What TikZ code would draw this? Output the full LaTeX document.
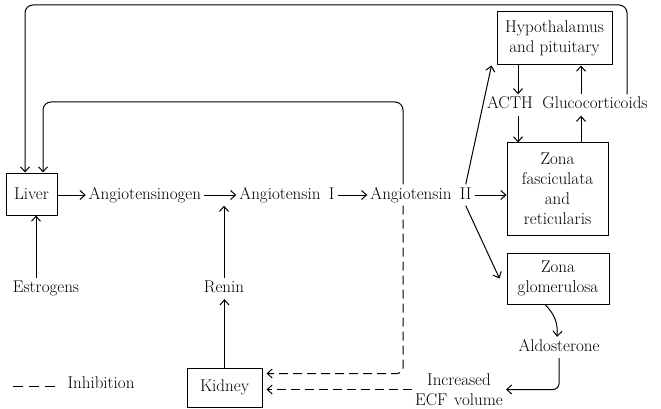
\documentclass[tikz,border=0pt]{standalone}
\usetikzlibrary{arrows.meta}
\tikzset{
  box/.style={draw, line width=1pt, align=center, inner sep=0pt},
  lbl/.style={text height=11.5pt, text depth=3.5pt, inner sep=3pt, align=center},
  arr/.style={->, line width=1pt},
  inhib/.style={->, line width=1pt, dash pattern=on 9pt off 5pt},
  >={Straight Barb[length=5pt,width=9pt]}
}
\begin{document}
\begin{tikzpicture}[x=1pt,y=-1pt,font=\fontsize{17}{20}\selectfont]
			%%%%% START %%%%%
			\useasboundingbox (0,0) rectangle (661,409);
			\coordinate (topline) at (0,5);
			\coordinate (midline) at (0,102);
			
			% main row
			\node[box, minimum width=51pt, minimum height=42pt] (liver) at (31.5,194) {Liver};
			\node[lbl] (agen) at (145,195) {Angiotensinogen};
			\node[lbl] (ang1) at (287,195) {Angiotensin\hspace{0.5em}I};
			\node[lbl] (ang2) at (421,195) {Angiotensin\hspace{0.5em}II};
			
			% adrenal side
			\node[box, minimum width=115pt, minimum height=53pt] (hyp) at (554.5,38.5) {Hypothalamus\\and pituitary};
			\node[lbl] (acth) at (510,105) {ACTH};
			\node[lbl] (gluc) at (595,105) {Glucocorticoids};
			\node[box, minimum width=101pt, minimum height=92pt] (zfr) at (557.5,189) {Zona\\fasciculata\\and\\reticularis};
			\node[box, minimum width=102pt, minimum height=51pt] (zg) at (558,278.5) {Zona\\glomerulosa};
			\node[lbl] (aldo) at (559,347.5) {Aldosterone};
			\node[align=center, inner sep=3pt] (ecf) at (459,389.5) {Increased\\ECF\hspace{0.4em}volume};
			
			% lower left
			\node[lbl] (estr) at (46,288.5) {Estrogens};
			\node[lbl] (renin) at (224,288.5) {Renin};
			\node[box, minimum width=75pt, minimum height=39pt] (kidney) at (224.5,387.5) {Kidney};
			
			% legend
			\node[lbl] (inh) at (101,384.5) {Inhibition};
			\coordinate (legl) at (13,386);
			\draw[line width=1pt, dash pattern=on 10pt off 6pt] (legl) -- ([xshift=-4pt]legl -| inh.west);
			
			% arrows
			\draw[arr] (liver.east |- agen) -- (agen.west);
			\draw[arr] (agen.east) -- (ang1.west);
			\draw[arr] (ang1.east) -- (ang2.west);
			\draw[arr] (ang2.east) -- (ang2.east -| zfr.west);
			\draw[arr] ([xshift=-9pt]ang2.north east) -- ([xshift=-5pt]hyp.south west);
			\draw[arr] ([xshift=-9pt]ang2.south east) -- ([xshift=-7pt]zg.west);
			
			\draw[arr] ([xshift=8pt]acth.north |- hyp.south) -- ([xshift=8pt]acth.north);
			\draw[arr] ([xshift=-14pt]gluc.north) -- ([xshift=-14pt]gluc.north |- hyp.south);
			\draw[arr] ([xshift=8pt]acth.south) -- ([xshift=8pt]acth.south |- zfr.north);
			\draw[arr] ([xshift=-14pt]gluc.south |- zfr.north) -- ([xshift=-14pt]gluc.south);
			
			\draw[arr] ([xshift=-13pt]zg.south) to[bend left=25] ([xshift=-2pt]aldo.north);
			\draw[arr, rounded corners=6pt] (aldo.south) |- (ecf.east);
			
			\draw[arr] ([xshift=4.5pt]liver.south |- estr.north) -- ([xshift=4.5pt]liver.south);
			\draw[arr] (kidney.north) -- (kidney.north |- renin.south);
			\draw[arr] (renin.north) -- (renin.north |- ang1.south);
			
			% feedback loops
			\draw[arr, rounded corners=8pt] ([xshift=32pt]gluc.north) |- ([xshift=-6.5pt]liver.north |- topline) -- ([xshift=-6.5pt]liver.north);
			\draw[arr, rounded corners=8pt] ([xshift=-18pt]ang2.north) |- ([xshift=11.5pt]liver.north |- midline) -- ([xshift=11.5pt]liver.north);
			
			% inhibition
			\draw[inhib, rounded corners=6pt] ([xshift=-18pt]ang2.south) |- ([xshift=4pt,yshift=14pt]kidney.east);
			\draw[inhib] (ecf.west) -- ([xshift=4pt]kidney.east |- ecf.west);
			%%%%% END %%%%%
\end{tikzpicture}
\end{document}
